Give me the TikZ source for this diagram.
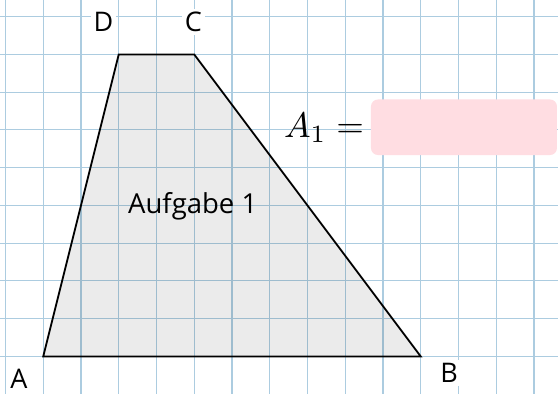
\documentclass[tikz,border=0pt]{standalone}
\usepackage{fontspec}
\setmainfont{Open Sans}
\begin{document}
\begin{tikzpicture}[x=37.75pt,y=37.75pt,
  gridline/.style={line width=1.1pt,draw={rgb,255:red,172;green,204;blue,224}},
  trapline/.style={line width=1.8pt,line join=miter},
  lbl/.style={fill=white,inner sep=3pt,font=\fontsize{27}{32}\selectfont},
  bigtext/.style={inner sep=0pt,font=\fontsize{27.5}{32}\selectfont}]
\useasboundingbox (-0.1457,-0.9947) rectangle (14.636,9.4424);
\fill[white] (-0.1457,-0.9947) rectangle (14.636,9.4424);
% grid
\foreach \i in {0,...,14} \draw[gridline] (\i,-0.9947) -- (\i,9.4424);
\foreach \j in {0,...,9} \draw[gridline] (-0.1457,\j) -- (14.636,\j);
% trapezoid
\coordinate (A) at (1,0);
\coordinate (B) at (11,0);
\coordinate (C) at (5,8);
\coordinate (D) at (3,8);
\fill[black,opacity=0.08] (A) -- (B) -- (C) -- (D) -- cycle;
\draw[trapline] (A) -- (B) -- (C) -- (D) -- cycle;
% labels
\node[lbl] (lA) at (0.358,-0.597) {A};
\node[lbl] (lB) at (11.75,-0.438) {B};
\node[lbl] (lC) at (4.975,8.86) {C};
\node[lbl] (lD) at (2.596,8.86) {D};
\node[bigtext,anchor=base] (task) at (4.959,3.792) {Aufgabe 1};
% answer field
\fill[fill={rgb,255:red,255;green,221;blue,226},rounded corners=7pt] (9.682,5.336) rectangle (14.609,6.807);
\node[inner sep=0pt,anchor=base west,scale=3.55] (eq) at (7.36,5.80) {$A_1 =$};
\end{tikzpicture}
\end{document}
